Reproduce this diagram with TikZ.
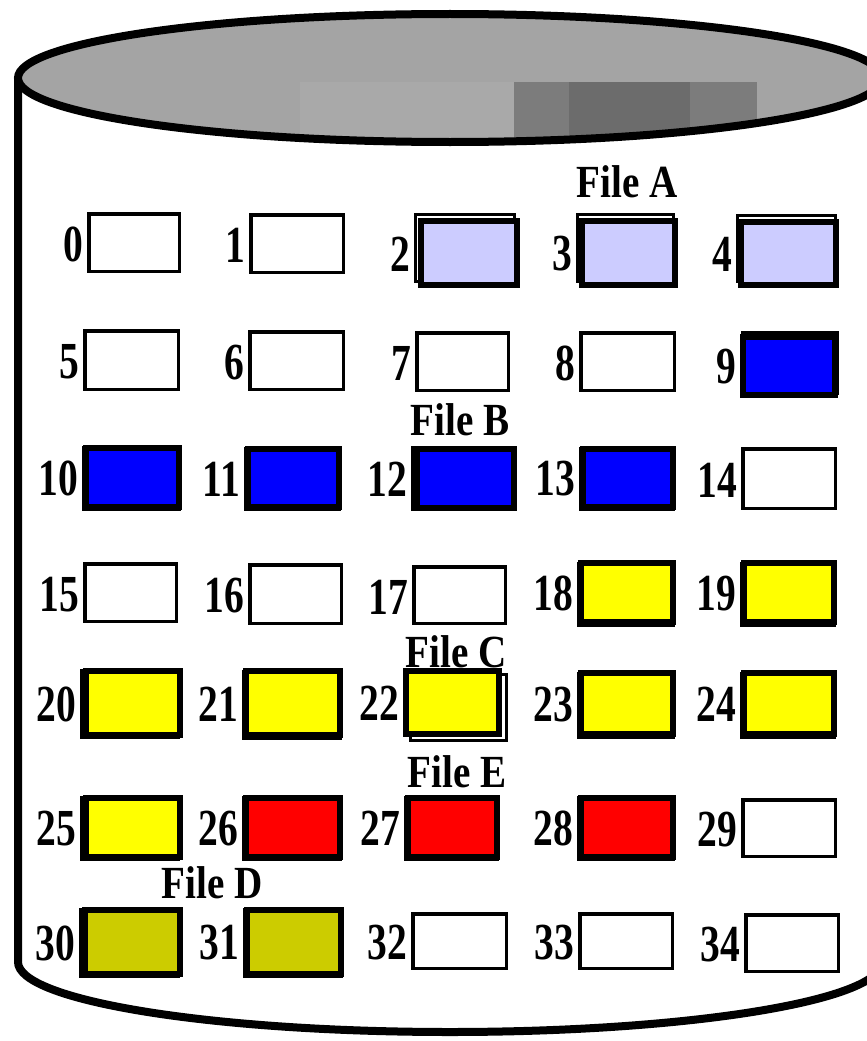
\documentclass[tikz,border=0pt]{standalone}
\usepackage{fontspec}
\setmainfont{Liberation Serif}
\definecolor{lav}{HTML}{CCCCFF}
\definecolor{blu}{HTML}{0000FF}
\definecolor{yel}{HTML}{FFFF00}
\definecolor{rd}{HTML}{FF0000}
\definecolor{olv}{HTML}{CCCC00}
\definecolor{topgray}{HTML}{A4A4A4}
\definecolor{toplight}{HTML}{A9A9A9}
\definecolor{topdark}{HTML}{7C7C7C}
\definecolor{topdarker}{HTML}{6C6C6C}
\newcommand\nsq[1]{\scalebox{0.76}[1]{#1}}
\newcommand\tsq[1]{\scalebox{0.85}[1]{#1}}
\tikzset{
  wbox/.style={draw=black, line width=3.5pt, fill=white, inner sep=0pt},
  cbox/.style={draw=black, line width=6pt, inner sep=0pt},
  backbox/.style={draw=black, line width=3pt},
  num/.style={font=\fontsize{52}{52}\selectfont\bfseries, inner sep=0pt, anchor=east},
  ftitle/.style={font=\fontsize{46}{46}\selectfont\bfseries, inner sep=0pt, anchor=base},
  wall/.style={draw=black, line width=8pt}
}
% white box: name, x1, y1, x2, y2, label
\newcommand\wblk[6]{%
  \node[wbox, minimum width={(#4-#2-3.5)*1pt}, minimum height={(#5-#3-3.5)*1pt}] (#1) at ({(#2+#4)/2},{(#3+#5)/2}) {};
  \node[num] (l#1) at ({#2-4},{(#3+#5)/2+2}) {\nsq{#6}};
}
% coloured box: name, x1, y1, x2, y2, label, colour, back dx, back dy
\newcommand\cblk[9]{%
  \draw[backbox] ({#2+#8+1.5},{#3+#9+1.5}) rectangle ({#4+#8-1.5},{#5+#9-1.5});
  \node[cbox, fill=#7, minimum width={(#4-#2-6)*1pt}, minimum height={(#5-#3-6)*1pt}] (#1) at ({(#2+#4)/2},{(#3+#5)/2}) {};
  \node[num] (l#1) at ({min(#2,#2+#8)-4},{(#3+#5)/2+1}) {\nsq{#6}};
}
\begin{document}
\begin{tikzpicture}[x=1pt,y=-1pt]
\useasboundingbox (0,0) rectangle (867,1041);
\fill[white] (0,0) rectangle (867,1041);
% cylinder body
\draw[wall] (18,78) -- (18,962) arc[start angle=180, end angle=360, x radius=432pt, y radius=70pt] -- (882,78);
% top ellipse
\begin{scope}
  \clip (450,78) ellipse [x radius=432pt, y radius=64pt];
  \fill[topgray] (0,0) rectangle (900,160);
  \fill[toplight] (300,82) rectangle (514,160);
  \fill[topdark] (514,82) rectangle (757,160);
  \fill[topdarker] (569,82) rectangle (690,160);
\end{scope}
\draw[wall] (450,78) ellipse [x radius=432pt, y radius=64pt];
% titles
\node[ftitle] (fa) at (627,197) {\tsq{File A}};
\node[ftitle] (fb) at (460,435) {\tsq{File B}};
\node[ftitle] (fc) at (456,667) {\tsq{File C}};
\node[ftitle] (fe) at (457,787) {\tsq{File E}};
\node[ftitle] (fd) at (212,898) {\tsq{File D}};
% row 0
\wblk{b0}{87}{212}{181}{273}{0}
\wblk{b1}{249}{213}{345}{274}{1}
\cblk{b2}{418}{218}{520}{288}{2}{lav}{-4}{-5}
\cblk{b3}{579}{218}{678}{288}{3}{lav}{-3}{-5}
\cblk{b4}{738}{219}{839}{288}{4}{lav}{-2}{-5}
% row 1
\wblk{b5}{83}{329}{180}{391}{5}
\wblk{b6}{248}{330}{345}{391}{6}
\wblk{b7}{415}{331}{510}{392}{7}
\wblk{b8}{579}{331}{676}{392}{8}
\cblk{b9}{740}{334}{838}{398}{9}{blu}{1}{-3}
% row 2
\cblk{b10}{83}{445}{182}{510}{10}{blu}{-1}{1}
\cblk{b11}{245}{446}{342}{510}{11}{blu}{-1}{1}
\cblk{b12}{414}{446}{517}{511}{12}{blu}{-3}{0}
\cblk{b13}{580}{446}{676}{510}{13}{blu}{-1}{1}
\wblk{b14}{741}{447}{837}{510}{14}
% row 3
\wblk{b15}{83}{562}{178}{623}{15}
\wblk{b16}{248}{563}{343}{625}{16}
\wblk{b17}{412}{565}{507}{625}{17}
\cblk{b18}{578}{560}{676}{625}{18}{yel}{-1}{2}
\cblk{b19}{741}{560}{837}{625}{19}{yel}{-1}{2}
% row 4
\cblk{b20}{83}{668}{183}{738}{20}{yel}{-3}{1}
\cblk{b21}{243}{668}{343}{738}{21}{yel}{-1}{2}
\cblk{b22}{403}{668}{502}{737}{22}{yel}{6}{5}
\cblk{b23}{578}{670}{676}{737}{23}{yel}{-1}{2}
\cblk{b24}{741}{670}{837}{737}{24}{yel}{-1}{2}
% row 5
\cblk{b25}{83}{795}{183}{860}{25}{yel}{-3}{1}
\cblk{b26}{243}{795}{343}{860}{26}{rd}{-1}{1}
\cblk{b27}{405}{795}{500}{860}{27}{rd}{-1}{1}
\cblk{b28}{578}{795}{676}{860}{28}{rd}{-1}{1}
\wblk{b29}{741}{798}{837}{858}{29}
% row 6
\cblk{b30}{82}{907}{183}{977}{30}{olv}{-3}{1}
\cblk{b31}{244}{907}{344}{977}{31}{olv}{-1}{1}
\wblk{b32}{411}{912}{508}{970}{32}
\wblk{b33}{578}{912}{674}{970}{33}
\wblk{b34}{744}{913}{840}{973}{34}
\end{tikzpicture}
\end{document}
